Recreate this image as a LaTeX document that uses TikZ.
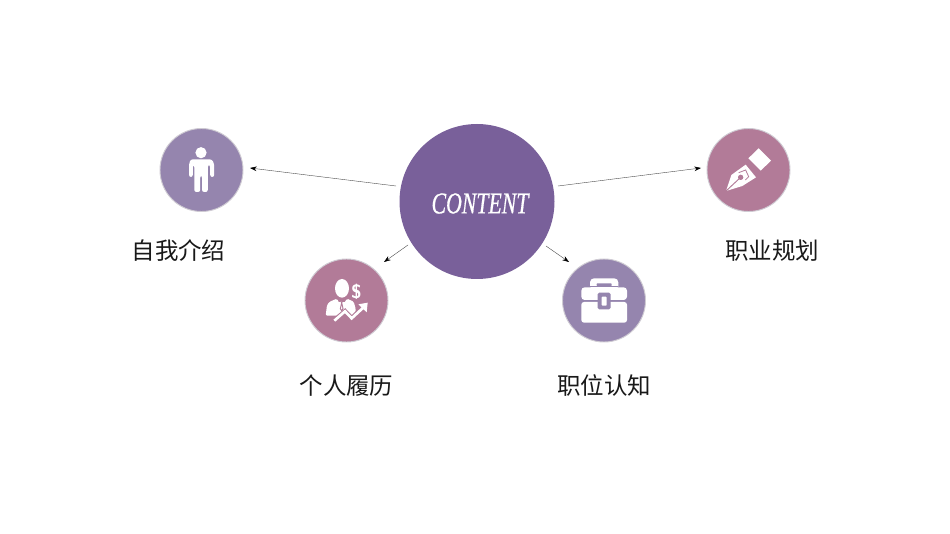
\documentclass[tikz,border=0pt]{standalone}
\usepackage{fontspec}
\usepackage{graphicx}
\setmainfont{Liberation Serif}
\newfontfamily\cjk{Noto Sans CJK SC}
\newfontfamily\hubfont[ItalicFeatures={FakeBold=0.7}]{Liberation Serif}
\definecolor{cmain}{HTML}{79609A}
\definecolor{cpurple}{HTML}{9585AE}
\definecolor{crose}{HTML}{B27B98}
\definecolor{cring}{HTML}{CFCBD3}
\usetikzlibrary{arrows.meta}
\tikzset{
  hub/.style={circle,fill=cmain,minimum size=155*0.75pt,inner sep=0pt,text=white},
  sat/.style={circle,fill=#1,draw=cring,line width=0.7pt,minimum size=83*0.75pt,inner sep=0pt},
  conn/.style={draw=black!70,line width=0.3pt,-{Stealth[length=5pt,width=3.5pt,black]}},
  lab/.style={font=\cjk\fontsize{17.6pt}{20pt}\selectfont,text=black!90,inner sep=0pt},
  ink/.style={fill=white,draw=none}
}
\begin{document}
\begin{tikzpicture}[x=0.75pt,y=-0.75pt]
\useasboundingbox (0,0) rectangle (950,534);
\fill[white] (0,0) rectangle (950,534);
\node[hub] (c) at (477,201.5) {};
\node[text=white,inner sep=0pt] (ct) at (480,203.5) {\scalebox{0.72}[1]{\fontsize{22.7pt}{24pt}\selectfont\hubfont\itshape CONTENT}};
\node[sat=cpurple] (a) at (201.5,170) {};
\node[sat=crose] (b) at (346.5,300.5) {};
\node[sat=cpurple] (d) at (604,300.5) {};
\node[sat=crose] (e) at (748.5,170) {};
\node[lab] (la) at (178.5,251) {自我介绍};
\node[lab] (lb) at (346.5,386) {个人履历};
\node[lab] (ld) at (604,386) {职位认知};
\node[lab] (le) at (772,251) {职业规划};
\coordinate (s1) at (396,186); \coordinate (t1) at (250,168);
\coordinate (s2) at (408,245); \coordinate (t2) at (384,262);
\coordinate (s3) at (546,246); \coordinate (t3) at (569,262);
\coordinate (s4) at (558,186); \coordinate (t4) at (701,168);
\draw[conn] (s1) -- (t1);
\draw[conn] (s2) -- (t2);
\draw[conn] (s3) -- (t3);
\draw[conn] (s4) -- (t4);
% person
\fill[ink] (201,152.7) circle (5.6);
\fill[ink,rounded corners=1.6pt] (191,159.3) -- (211.5,159.3) -- (214.2,163) -- (214.2,177) -- (210.2,177) -- (210.2,165) -- (207.8,165) -- (207.8,192) -- (202,192) -- (202,175.5) -- (200.2,175.5) -- (200.2,192) -- (194.3,192) -- (194.3,165) -- (192.8,165) -- (192.8,177) -- (189,177) -- (189,163) -- cycle;
% executive
\begin{scope}[shift={(295,250)},x=0.25pt,y=-0.25pt]
\fill[ink] (141,115) ellipse (21 and 28);
\fill[ink,rounded corners=1pt] (92,197) -- (96,165) -- (104,155) -- (126,146) -- (133,160) -- (140,150) -- (147,160) -- (156,146) -- (176,155) -- (182,176) -- (182,197) -- cycle;
\draw[crose,line width=0.7pt] (135,150) -- (140,158) -- (145,150);
\draw[crose,line width=0.7pt] (140,158) -- (136,176) -- (140,182) -- (144,176) -- cycle;
\draw[crose,line width=4.2pt] (110,220) -- (150,186) -- (170,207) -- (208,170);
\fill[crose] (170,215) rectangle (200,240);
\fill[crose] (118,197) rectangle (135,225);
\draw[white,line width=2pt] (118,212) -- (150,184) -- (170,205) -- (208,170);
\fill[ink] (190,163) -- (218,158) -- (215,187) -- cycle;
\node[text=white,inner sep=0pt,font=\fontsize{14.5pt}{14pt}\selectfont\bfseries\sffamily] (dollar) at (184,125) {\$};
\end{scope}
% toolbox
\begin{scope}[shift={(555,250)},x=0.25pt,y=-0.25pt]
\fill[ink,rounded corners=3pt] (105,120) -- (105,85) -- (190,85) -- (190,120) -- cycle;
\fill[cpurple,rounded corners=0.5pt] (125,100) rectangle (170,108);
\fill[cpurple] (105,108) rectangle (190,112);
\fill[ink,rounded corners=2.5pt] (79,150) -- (79,112) -- (216,112) -- (216,150) -- cycle;
\fill[ink,rounded corners=2pt] (79,156) rectangle (216,218);
\fill[cpurple,rounded corners=1.2pt] (128,128) rectangle (167,178);
\fill[ink,rounded corners=0.6pt] (140,140) rectangle (155,167);
\end{scope}
% pen
\begin{scope}[shift={(700,120)},x=0.25pt,y=-0.25pt]
\fill[ink] (78,213) -- (94,165) -- (137,134) -- (168,172) -- (127,198) -- cycle;
\fill[ink] (145,115) -- (176,85) -- (213,122) -- (182,152) -- cycle;
\draw[crose,line width=0.7pt] (78,213) -- (122,172);
\fill[crose] (122,172) circle (8);
\draw[crose,line width=0.6pt] (116,158) -- (137,150) -- (146,170) -- (136,180);
\end{scope}
\end{tikzpicture}
\end{document}
